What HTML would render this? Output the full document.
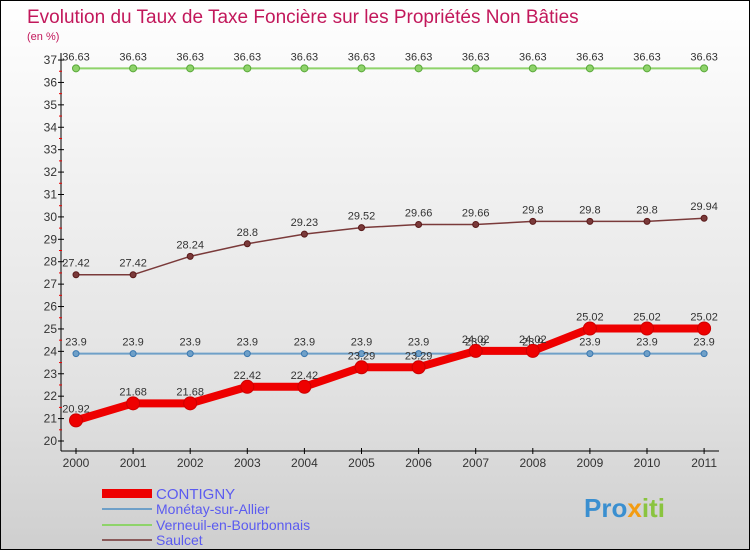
<!DOCTYPE html>
<html><head><meta charset="utf-8"><style>
body{margin:0;}
#wrap{position:relative;width:748px;height:548px;border:1px solid #000;background:linear-gradient(#ffffff,#f2f2f2 30%,#e2e2e2 70%,#cfcfcf);font-family:"Liberation Sans",sans-serif;overflow:hidden}
svg text{font-family:"Liberation Sans",sans-serif}
</style></head><body>
<div id="wrap">
<svg id="chart" width="748" height="548">
<text x="26" y="22" font-size="19" fill="#c2185b" style="font-weight:300">Evolution du Taux de Taxe Foncière sur les Propriétés Non Bâties</text>
<text x="26" y="39" font-size="11" fill="#c2185b">(en %)</text>
<g id="axes"></g><g id="series"></g>
<g>
<rect x="101" y="488" width="50" height="9" fill="#e00"/>
<text x="155" y="498" font-size="15" fill="#5b5bf0">CONTIGNY</text>
<rect x="101" y="507" width="50" height="2" fill="#6fa0c8"/>
<text x="155" y="513" font-size="14" fill="#5b5bf0">Monétay-sur-Allier</text>
<rect x="101" y="523" width="50" height="2" fill="#8ed36a"/>
<text x="155" y="529" font-size="14" fill="#5b5bf0">Verneuil-en-Bourbonnais</text>
<rect x="101" y="538" width="50" height="2" fill="#8a5a5a"/>
<text x="155" y="544" font-size="14" fill="#5b5bf0">Saulcet</text>
</g>
<text x="583" y="516" font-size="26" font-weight="bold" fill="#3a8fd0">Pro<tspan fill="#f39c12">x</tspan><tspan fill="#8ac43f">iti</tspan></text>
</svg>
</div>
<script>
const years=[2000,2001,2002,2003,2004,2005,2006,2007,2008,2009,2010,2011];
const contigny=[20.92,21.68,21.68,22.42,22.42,23.29,23.29,24.02,24.02,25.02,25.02,25.02];
const monetay=[23.9,23.9,23.9,23.9,23.9,23.9,23.9,23.9,23.9,23.9,23.9,23.9];
const verneuil=[36.63,36.63,36.63,36.63,36.63,36.63,36.63,36.63,36.63,36.63,36.63,36.63];
const saulcet=[27.42,27.42,28.24,28.8,29.23,29.52,29.66,29.66,29.8,29.8,29.8,29.94];
const yTicks=[20,21,22,23,24,25,26,27,28,29,30,31,32,33,34,35,36,37];
const NS="http://www.w3.org/2000/svg";
const xS=i=>75+i*57.1;
const yS=v=>440-(v-20)*22.41;
function mk(tag,attrs,parent){const e=document.createElementNS(NS,tag);for(const k in attrs)e.setAttribute(k,attrs[k]);parent.appendChild(e);return e;}
const ax=document.getElementById('axes');
const yl=mk('line',{x1:60,y1:52,x2:60,y2:450,stroke:'#000'},ax);


const xl=mk('line',{x1:60,y1:450,x2:718,y2:450,stroke:'#000'},ax);


yTicks.forEach(v=>{
  mk('line',{x1:57,x2:63,y1:yS(v),y2:yS(v),stroke:'#000'},ax);
  if(v<37)mk('line',{x1:58,x2:61,y1:yS(v+0.5),y2:yS(v+0.5),stroke:'#e00'},ax);
  const t=mk('text',{x:56,y:yS(v)+4,'font-size':12,'text-anchor':'end',fill:'#333'},ax);
  
  
  t.textContent=v;
});
years.forEach((y,i)=>{
  mk('line',{x1:xS(i),x2:xS(i),y1:447,y2:453,stroke:'#000'},ax);
  const t=mk('text',{x:xS(i),y:466,'font-size':12,'text-anchor':'middle',fill:'#333'},ax);
  
  
  t.textContent=y;
});
const sg=document.getElementById('series');
function draw(vals,color,w,r,name,dotStroke){
  const g=mk('g',{},sg);
  
  
  const p=mk('polyline',{points:vals.map((v,i)=>xS(i)+','+yS(v)).join(' '),fill:'none',stroke:color,'stroke-width':w,'stroke-linejoin':'round'},g);
  
  
  vals.forEach((v,i)=>{
    const c=mk('circle',{cx:xS(i),cy:yS(v),r:r,fill:color,stroke:dotStroke,'stroke-width':1},g);
    
    
    const t=mk('text',{x:xS(i),y:yS(v)-8,'font-size':11,'text-anchor':'middle',fill:'#333'},g);
    
    
    t.textContent=String(v);
  });
}
draw(verneuil,'#8ed36a',2,3.5,'verneuil','#5aa83a');
draw(saulcet,'#7a3a3a',1.5,3,'saulcet','#5a1a1a');
draw(monetay,'#6fa0c8',2,3,'monetay','#3a78b0');
draw(contigny,'#ee0000',8,6.5,'contigny','#c00');
</script>
</body></html>
